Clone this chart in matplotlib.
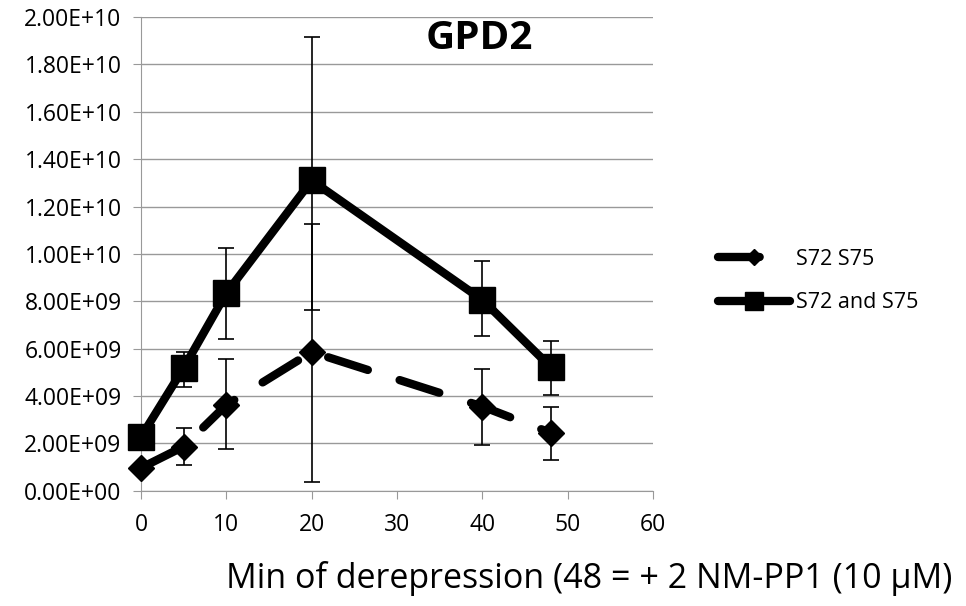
import matplotlib.pyplot as plt
import numpy as np

plt.rcParams['font.family'] = ['Open Sans', 'DejaVu Sans']

minutes = [0, 5, 10, 20, 40, 48]

# S72 S75 (diamonds, dashed)
s72_s75 = [0.97e9, 1.87e9, 3.63e9, 5.86e9, 3.56e9, 2.45e9]
s72_s75_lo = [0.0, 0.77e9, 1.86e9, 5.48e9, 1.62e9, 1.14e9]
s72_s75_hi = [0.0, 0.79e9, 1.94e9, 5.40e9, 1.59e9, 1.11e9]

# S72 and S75 (squares, solid)
s72_and = [2.28e9, 5.19e9, 8.35e9, 13.1e9, 8.06e9, 5.23e9]
s72_and_lo = [0.0, 0.80e9, 1.94e9, 5.46e9, 1.52e9, 1.18e9]
s72_and_hi = [0.0, 0.69e9, 1.90e9, 6.04e9, 1.62e9, 1.11e9]

yticks = np.arange(0, 2.01e10, 2e9)
ylabels = ['0.00E+00', '2.00E+09', '4.00E+09', '6.00E+09', '8.00E+09', '1.00E+10',
           '1.20E+10', '1.40E+10', '1.60E+10', '1.80E+10', '2.00E+10']
xticks = [0, 10, 20, 30, 40, 50, 60]

fig = plt.figure(figsize=(9.66, 6.06), dpi=100)
ax = fig.add_axes([0.146, 0.19, 0.53, 0.782])

ax.errorbar(minutes, s72_s75, yerr=[s72_s75_lo, s72_s75_hi], fmt='none',
            ecolor='black', elinewidth=1.2, capsize=6, capthick=1.2, zorder=3)
ax.errorbar(minutes, s72_and, yerr=[s72_and_lo, s72_and_hi], fmt='none',
            ecolor='black', elinewidth=1.2, capsize=6, capthick=1.2, zorder=3)

ax.plot(minutes, s72_s75, color='black', lw=6, dashes=(5, 4), dash_capstyle='round',
        marker='D', markersize=13, label='S72 S75', zorder=4, clip_on=False)
ax.plot(minutes, s72_and, color='black', lw=6, solid_capstyle='round',
        marker='s', markersize=19, label='S72 and S75', zorder=4, clip_on=False)

ax.set_xlim(0, 60)
ax.set_ylim(0, 2e10)
ax.set_xticks(xticks)
ax.set_yticks(yticks)
ax.set_yticklabels(ylabels)
ax.tick_params(labelsize=16.5, colors='black', length=6)
ax.tick_params(axis='both', color='#999999')
ax.tick_params(axis='x', pad=10)
ax.tick_params(axis='y', pad=8)
ax.yaxis.grid(True, color='#999999', lw=1)
ax.set_axisbelow(True)
for s in ['top', 'right']:
    ax.spines[s].set_visible(False)
for s in ['left', 'bottom']:
    ax.spines[s].set_color('#999999')

ax.text(0.66, 0.955, 'GPD2', transform=ax.transAxes, fontsize=29, fontweight='bold',
        ha='center', va='center')

ax.legend(loc='center left', bbox_to_anchor=(1.09, 0.443), frameon=False, fontsize=15.5,
          handlelength=3.3, handletextpad=0.3, labelspacing=1.05, markerscale=0.65)

fig.text(0.61, 0.045, 'Min of derepression (48 = + 2 NM-PP1 (10 μM)', fontsize=24.5,
         ha='center', va='center')

plt.savefig('out.png', dpi=100)
